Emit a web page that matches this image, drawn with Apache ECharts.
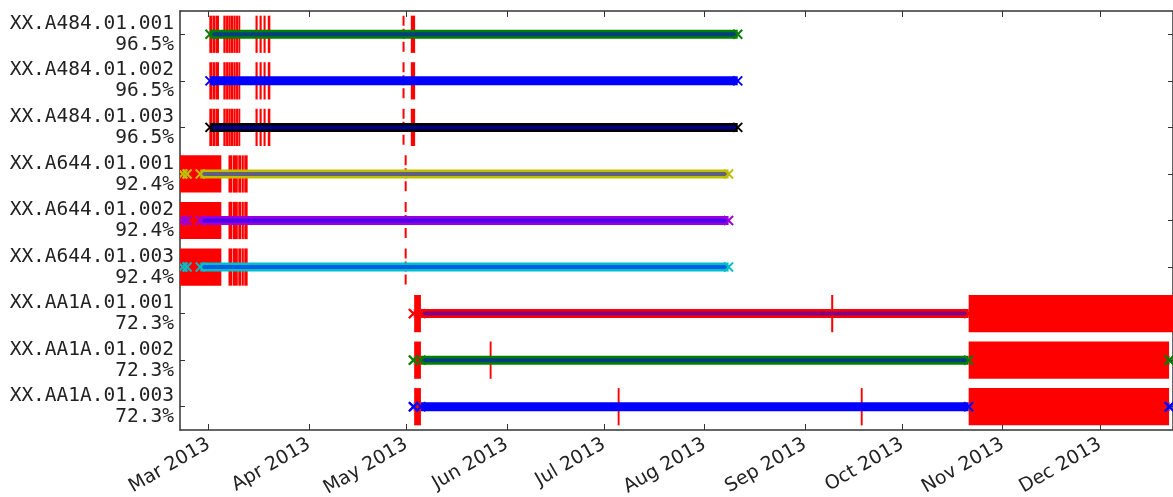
<!DOCTYPE html>
<html><head><meta charset="utf-8">
<script src="https://cdn.jsdelivr.net/npm/echarts@6/dist/echarts.min.js"></script>
<style>html,body{margin:0;padding:0;background:#fff}#chart{width:1173px;height:497px}</style>
</head><body><div id="chart"></div>
<script>
// ---------------- data ----------------
const channels = ['XX.A484.01.001','XX.A484.01.002','XX.A484.01.003',
                  'XX.A644.01.001','XX.A644.01.002','XX.A644.01.003',
                  'XX.AA1A.01.001','XX.AA1A.01.002','XX.AA1A.01.003'];
const coverage = ['96.5%','96.5%','96.5%','92.4%','92.4%','92.4%','72.3%','72.3%','72.3%'];
const monthTicks = ['2013-03-01','2013-04-01','2013-05-01','2013-06-01','2013-07-01',
                    '2013-08-01','2013-09-01','2013-10-01','2013-11-01','2013-12-01'];
const monthLabels = ['Mar 2013','Apr 2013','May 2013','Jun 2013','Jul 2013',
                     'Aug 2013','Sep 2013','Oct 2013','Nov 2013','Dec 2013'];
const axisStart = '2013-02-20T04:00';
const axisEnd = '2013-12-23T13:00';

const a484Segments = [['2013-03-01T10:00','2013-08-11T06:00']];
const a484Gaps = [
  ['2013-03-01T05:00','2013-03-02T01:00'],['2013-03-02T04:00','2013-03-02T23:30'],['2013-03-03T02:00','2013-03-04T05:00'],
  ['2013-03-05T13:00','2013-03-06T06:30'],['2013-03-06T09:00','2013-03-07T02:00'],['2013-03-07T03:00','2013-03-07T19:30'],
  ['2013-03-07T21:00','2013-03-08T15:00'],['2013-03-08T16:30','2013-03-09T08:30'],['2013-03-09T11:00','2013-03-10T03:00'],
  ['2013-03-10T05:00','2013-03-10T17:00'],
  ['2013-03-15T11:00','2013-03-16T03:00'],['2013-03-16T17:00','2013-03-17T09:00'],['2013-03-17T22:30','2013-03-18T14:00'],
  ['2013-03-19T06:00','2013-03-20T01:00'],
  ['2013-05-02T09:00','2013-05-03T17:00']
];
const a484FlickerGaps = [['2013-04-29T20:00','2013-04-30T10:30']];

const a644Segments = [['2013-02-21T02:00','2013-02-22T08:00'],['2013-02-26T10:00','2013-08-08T10:00']];
const a644Gaps = [
  ['2013-02-19T00:00','2013-03-04T22:00'],
  ['2013-03-07T03:00','2013-03-08T07:00'],['2013-03-08T11:00','2013-03-10T00:00'],['2013-03-10T03:30','2013-03-11T02:00'],
  ['2013-03-11T05:30','2013-03-11T20:30'],['2013-03-12T00:00','2013-03-13T01:00']
];
const a644FlickerGaps = [['2013-04-30T12:00','2013-05-01T02:00']];

const aa1aSegments = [['2013-05-03T04:00','2013-05-03T06:00'],['2013-05-05T12:00','2013-10-21T12:00'],['2013-12-22T08:00','2013-12-22T12:00']];
const aa1aGaps = [['2013-05-03T10:00','2013-05-05T12:00']];
const aa1a001Gaps = [['2013-09-09T02:00','2013-09-09T17:00'],['2013-10-21T12:00','2013-12-24T12:00']];
const aa1a002Gaps = [['2013-05-26T17:00','2013-05-27T07:00'],['2013-10-21T12:00','2013-12-22T08:00']];
const aa1a003Gaps = [['2013-07-05T05:00','2013-07-05T19:00'],['2013-09-18T05:00','2013-09-18T19:00'],['2013-10-21T12:00','2013-12-22T08:00']];

// ---------------- build ----------------
const T = s => Date.parse((s.length === 10 ? s + 'T00:00' : s) + 'Z');
const rowSegments = [a484Segments,a484Segments,a484Segments,a644Segments,a644Segments,a644Segments,aa1aSegments,aa1aSegments,aa1aSegments];
const rowGaps = [a484Gaps,a484Gaps,a484Gaps,a644Gaps,a644Gaps,a644Gaps,
                 aa1aGaps.concat(aa1a001Gaps),aa1aGaps.concat(aa1a002Gaps),aa1aGaps.concat(aa1a003Gaps)];
const rowFlicker = [a484FlickerGaps,a484FlickerGaps,a484FlickerGaps,a644FlickerGaps,a644FlickerGaps,a644FlickerGaps,[],[],[]];
const rowColors = ['#008000','#0000ff','#000000','#bfbf00','#9a00dc','#00bfc8','#ff0000','#008000','#0000ff'];

const toData = rows => rows.flatMap((list, r) => list.map(([a, b]) => [T(a), T(b), r]));
const segData = toData(rowSegments), gapData = toData(rowGaps), flickData = toData(rowFlicker);
const tickValues = monthTicks.map(T);

function clipRect(params, r) {
  const cs = params.coordSys;
  return echarts.graphic.clipRectByRect(r, {x: cs.x, y: cs.y, width: cs.width, height: cs.height});
}
function renderGap(params, api) {
  const row = api.value(2);
  const p0 = api.coord([api.value(0), row]), p1 = api.coord([api.value(1), row]);
  const h = api.size([0, 1])[1] * 0.8;
  const w = Math.max(p1[0] - p0[0], 1.8);
  const r = clipRect(params, {x: p0[0], y: p0[1] - h / 2, width: w, height: h});
  return r && {type: 'rect', shape: r, style: {fill: '#ff0000'}};
}
function renderFlicker(params, api) {
  const row = api.value(2);
  const p0 = api.coord([api.value(0), row]), p1 = api.coord([api.value(1), row]);
  const h = api.size([0, 1])[1] * 0.8;
  const xc = (p0[0] + p1[0]) / 2, w = Math.max(p1[0] - p0[0], 2);
  return {type: 'line', shape: {x1: xc, y1: p0[1] - h / 2, x2: xc, y2: p0[1] + h / 2},
          style: {stroke: '#ff0000', lineWidth: w, lineDash: [10, 3]}};
}
function marker(x, y, c) {
  const s = 4.5;
  return [
    {type: 'line', shape: {x1: x - s, y1: y - s, x2: x + s, y2: y + s}, style: {stroke: c, lineWidth: 2}},
    {type: 'line', shape: {x1: x - s, y1: y + s, x2: x + s, y2: y - s}, style: {stroke: c, lineWidth: 2}}
  ];
}
function renderSeg(params, api) {
  const row = api.value(2);
  const p0 = api.coord([api.value(0), row]), p1 = api.coord([api.value(1), row]);
  const c = rowColors[row];
  return {type: 'group', children: [
    {type: 'line', shape: {x1: p0[0], y1: p0[1], x2: p1[0], y2: p1[1]}, style: {stroke: c, lineWidth: 9}},
    {type: 'line', shape: {x1: p0[0], y1: p0[1], x2: p1[0], y2: p1[1]}, style: {stroke: 'rgba(0,0,255,0.5)', lineWidth: 4}},
    ...marker(p0[0], p0[1], c), ...marker(p1[0], p1[1], c)
  ]};
}

const lineStyle = {color: '#333', width: 1.5};
const tickStyle = {color: '#333', width: 1};
const chart = echarts.init(document.getElementById('chart'), null, {renderer: 'canvas'});
chart.setOption({
  animation: false,
  backgroundColor: '#fff',
  grid: {left: 180, top: 11, right: 0, bottom: 67, containLabel: false, outerBoundsMode: 'none'},
  xAxis: [{
    type: 'value', min: T(axisStart), max: T(axisEnd), position: 'bottom',
    axisLine: {show: true, lineStyle},
    splitLine: {show: false},
    axisTick: {show: true, inside: true, length: 6, lineStyle: tickStyle, customValues: tickValues},
    axisLabel: {rotate: 30, margin: 13, fontFamily: 'DejaVu Sans', fontSize: 19, color: '#222',
      customValues: tickValues, hideOverlap: false,
      formatter: v => { const i = tickValues.indexOf(v); return i >= 0 ? monthLabels[i] : ''; }}
  }, {
    type: 'value', min: T(axisStart), max: T(axisEnd), position: 'top',
    axisLine: {show: true, lineStyle}, splitLine: {show: false},
    axisTick: {show: true, inside: true, length: 6, lineStyle: tickStyle, customValues: tickValues},
    axisLabel: {show: false}
  }],
  yAxis: [{
    type: 'category', data: channels, inverse: true, position: 'left',
    axisLine: {show: true, lineStyle},
    axisTick: {show: true, inside: true, length: 5, alignWithLabel: true, lineStyle: tickStyle},
    splitLine: {show: false},
    axisLabel: {margin: 6, fontFamily: 'DejaVu Sans Mono', fontSize: 19.5, lineHeight: 21, color: '#222', align: 'right',
      padding: [12, 0, 0, 0], interval: 0, showMinLabel: true, showMaxLabel: true, hideOverlap: false,
      formatter: (v, i) => v + '\n' + coverage[i]}
  }, {
    type: 'category', data: channels, inverse: true, position: 'right',
    axisLine: {show: true, lineStyle},
    axisTick: {show: true, inside: true, length: 5, alignWithLabel: true, lineStyle: tickStyle},
    axisLabel: {show: false}, splitLine: {show: false}
  }],
  series: [
    {type: 'custom', name: 'gaps', renderItem: renderGap, data: gapData, encode: {x: [0, 1], y: 2}, z: 2, clip: true},
    {type: 'custom', name: 'shortgaps', renderItem: renderFlicker, data: flickData, encode: {x: [0, 1], y: 2}, z: 2, clip: true},
    {type: 'custom', name: 'data', renderItem: renderSeg, data: segData, encode: {x: [0, 1], y: 2}, z: 3, clip: true}
  ]
});
</script></body></html>
